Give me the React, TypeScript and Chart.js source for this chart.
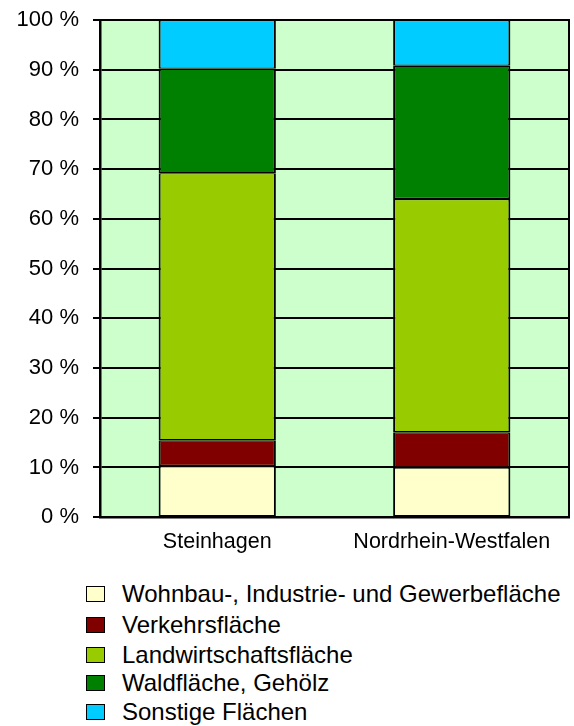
import React, { useEffect, useRef } from "react";
import { Chart, registerables } from "chart.js";

Chart.register(...registerables);

const categories = ["Steinhagen", "Nordrhein-Westfalen"];
const seriesNames = [
  "Wohnbau-, Industrie- und Gewerbefläche",
  "Verkehrsfläche",
  "Landwirtschaftsfläche",
  "Waldfläche, Gehölz",
  "Sonstige Flächen",
];
const wohnbau = [10.3, 10.0];
const verkehr = [5.2, 7.1];
const landwirtschaft = [53.7, 46.9];
const wald = [21.0, 26.8];
const sonstige = [9.8, 9.2];
const seriesColors = ["#FFFFCC", "#800000", "#99CC00", "#008000", "#00CCFF"];
const yTicks = [0, 10, 20, 30, 40, 50, 60, 70, 80, 90, 100];

const FONT = "'Liberation Sans', Arial, sans-serif";
const legendTops = [585, 616, 646, 674, 703];

const plotBg = {
  id: "plotBg",
  beforeDraw(chart: any) {
    const { ctx, chartArea: a } = chart;
    ctx.save();
    ctx.fillStyle = "#CCFFCC";
    ctx.fillRect(a.left, a.top, a.right - a.left, a.bottom - a.top);
    ctx.restore();
  },
  afterDraw(chart: any) {
    const { ctx, chartArea: a } = chart;
    ctx.save();
    ctx.strokeStyle = "#000";
    ctx.lineWidth = 2;
    ctx.beginPath();
    ctx.moveTo(a.left, a.top);
    ctx.lineTo(a.right, a.top);
    ctx.lineTo(a.right, a.bottom);
    ctx.stroke();
    ctx.restore();
  },
};

export default function App() {
  const ref = useRef<HTMLCanvasElement | null>(null);
  useEffect(() => {
    document.body.style.margin = "0";
    const values = [wohnbau, verkehr, landwirtschaft, wald, sonstige];
    const chart = new Chart(ref.current as HTMLCanvasElement, {
      type: "bar",
      data: {
        labels: categories,
        datasets: seriesNames.map((name, i) => ({
          label: name,
          data: values[i],
          backgroundColor: seriesColors[i],
          borderColor: "#000",
          borderWidth: { left: 2, right: 2, top: 1.2, bottom: 1.2 },
          borderSkipped: false,
          barPercentage: 0.5,
          categoryPercentage: 1,
        })),
      },
      options: {
        animation: false,
        responsive: false,
        events: [],
        layout: { padding: { left: 0, right: 5, top: 20, bottom: 0 } },
        plugins: { legend: { display: false }, tooltip: { enabled: false } },
        scales: {
          x: {
            stacked: true,
            grid: { display: false, drawTicks: false },
            border: { display: true, color: "#000", width: 2.5 },
            ticks: { color: "#000", font: { family: FONT, size: 21.5 }, padding: 12 },
          },
          y: {
            stacked: true,
            min: 0,
            max: 100,
            afterBuildTicks(scale: any) {
              scale.ticks = yTicks.map((v) => ({ value: v }));
            },
            afterFit(scale: any) {
              scale.width = 100;
              scale.paddingTop = 0;
              scale.paddingBottom = 0;
            },
            grid: { color: "#000", lineWidth: 2, drawTicks: true, tickLength: 7, tickColor: "#000" },
            border: { display: true, color: "#000", width: 2.5 },
            ticks: {
              color: "#000",
              font: { family: FONT, size: 22 },
              padding: 14,
              callback: (v: any) => v + " %",
            },
          },
        },
      },
      plugins: [plotBg],
    });
    return () => chart.destroy();
  }, []);

  return (
    <div style={{ position: "relative", width: 574, height: 726, background: "#fff" }}>
      <canvas ref={ref} width={574} height={567} style={{ display: "block" }} />
      {seriesNames.map((name, i) => (
        <div
          key={name}
          style={{
            position: "absolute",
            left: 86,
            top: legendTops[i] - 4,
            height: 25,
            display: "flex",
            alignItems: "center",
            fontFamily: FONT,
            fontSize: 24,
            color: "#000",
            whiteSpace: "nowrap",
          }}
        >
          <span
            style={{
              display: "inline-block",
              width: 17,
              height: 14,
              border: "1.5px solid #000",
              background: seriesColors[i],
              marginRight: 17,
            }}
          />
          <span>{name}</span>
        </div>
      ))}
    </div>
  );
}
